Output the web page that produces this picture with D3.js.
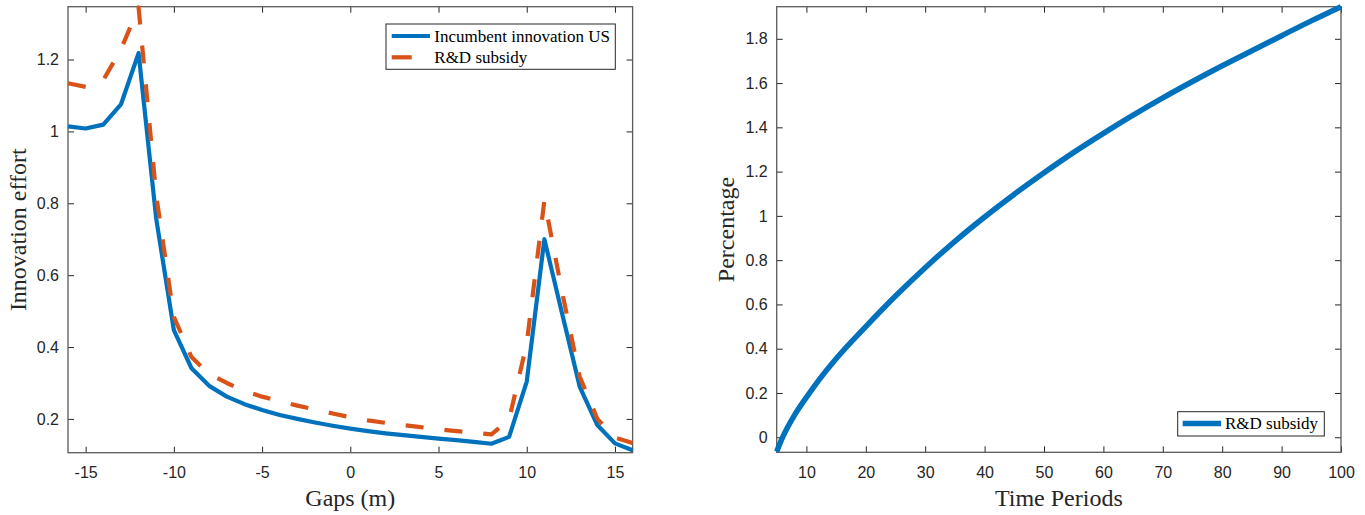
<!DOCTYPE html>
<html>
<head>
<meta charset="utf-8">
<script src="https://cdn.jsdelivr.net/npm/d3@7"></script>
<style>
  html, body { margin: 0; padding: 0; background: #fff; }
  svg { display: block; }
</style>
</head>
<body>
<svg id="chart" width="1365" height="515"></svg>
<script>
// ---------- Data ----------
const gaps = [-16,-15,-14,-13,-12,-11,-10,-9,-8,-7,-6,-5,-4,-3,-2,-1,0,1,2,3,4,5,6,7,8,9,10,11,12,13,14,15,16];
const incumbentUS = [1.014,1.008,1.019,1.075,1.218,0.757,0.447,0.341,0.292,0.262,0.241,0.225,0.211,0.200,0.190,0.181,0.173,0.166,0.160,0.155,0.150,0.145,0.141,0.136,0.131,0.150,0.304,0.700,0.494,0.290,0.183,0.132,0.113];
const rdSubsidyGap = [1.134,1.124,1.143,1.228,1.345,0.822,0.484,0.372,0.325,0.300,0.278,0.262,0.249,0.237,0.226,0.215,0.205,0.196,0.189,0.183,0.177,0.171,0.166,0.162,0.157,0.198,0.410,0.808,0.554,0.318,0.200,0.148,0.133];

const periods = [5,6,8,10,12,15,20,25,30,35,40,45,50,55,60,65,70,75,80,85,90,95,100];
const rdSubsidyPath = [-0.065,0.0,0.1,0.18,0.255,0.355,0.50,0.638,0.766,0.885,0.995,1.098,1.195,1.287,1.373,1.455,1.533,1.607,1.678,1.746,1.814,1.881,1.945];

const leftXTicks = [-15,-10,-5,0,5,10,15];
const leftYTicks = [0.2,0.4,0.6,0.8,1,1.2];
const rightXTicks = [10,20,30,40,50,60,70,80,90,100];
const rightYTicks = [0,0.2,0.4,0.6,0.8,1,1.2,1.4,1.6,1.8];

const leftLabels = {x: "Gaps (m)", y: "Innovation effort"};
const rightLabels = {x: "Time Periods", y: "Percentage"};
const leftLegend = ["Incumbent innovation US", "R&D subsidy"];
const rightLegend = ["R&D subsidy"];

// ---------- Styles ----------
const BLUE = "#0072BD", ORANGE = "#D95319", AX = "#262626", BOX = "#5a5a5a";
const tickFont = "'Liberation Sans', Arial, Helvetica, sans-serif";
const serif = "'Liberation Serif', 'Times New Roman', serif";

const svg = d3.select("#chart");

function fmt(v) { return String(+v.toFixed(4)); }

function panel(cfg) {
  const g = svg.append("g");
  const x = d3.scaleLinear().domain(cfg.xDomain).range([cfg.x0, cfg.x1]);
  const y = d3.scaleLinear().domain(cfg.yDomain).range([cfg.y1, cfg.y0]);
  const TL = 6;

  const bottom = g.append("g").attr("transform", `translate(0,${cfg.y1})`)
    .call(d3.axisBottom(x).tickValues(cfg.xTicks).tickSizeInner(-TL).tickSizeOuter(0).tickPadding(14).tickFormat(fmt));
  const top = g.append("g").attr("transform", `translate(0,${cfg.y0})`)
    .call(d3.axisTop(x).tickValues(cfg.xTicks).tickSizeInner(-TL).tickSizeOuter(0).tickFormat(""));
  const left = g.append("g").attr("transform", `translate(${cfg.x0},0)`)
    .call(d3.axisLeft(y).tickValues(cfg.yTicks).tickSizeInner(-TL).tickSizeOuter(0).tickPadding(9).tickFormat(fmt));
  const right = g.append("g").attr("transform", `translate(${cfg.x1},0)`)
    .call(d3.axisRight(y).tickValues(cfg.yTicks).tickSizeInner(-TL).tickSizeOuter(0).tickFormat(""));
  [bottom, top, left, right].forEach(a => {
    a.select(".domain").remove();
    a.selectAll(".tick line").attr("stroke", AX).attr("stroke-width", 1);
    a.selectAll(".tick text").attr("fill", AX).style("font-family", tickFont).style("font-size", "16px");
  });
  bottom.selectAll(".tick text").attr("dy", "0.71em");

  g.append("rect").attr("x", cfg.x0).attr("y", cfg.y0)
    .attr("width", cfg.x1 - cfg.x0).attr("height", cfg.y1 - cfg.y0)
    .attr("fill", "none").attr("stroke", BOX).attr("stroke-width", 1.3);

  cfg.series.forEach(s => {
    const line = d3.line().x((d, i) => x(s.xs[i])).y(d => y(d)).curve(s.curve || d3.curveLinear);
    g.append("path").datum(s.ys).attr("d", line)
      .attr("fill", "none").attr("stroke", s.color).attr("stroke-width", s.width || 4.2)
      .attr("stroke-linejoin", "round")
      .attr("stroke-dasharray", s.dash || null);
  });

  g.append("text").attr("x", (cfg.x0 + cfg.x1) / 2).attr("y", cfg.xLabelY)
    .attr("text-anchor", "middle").attr("fill", AX)
    .style("font-family", serif).style("font-size", "24px").text(cfg.labels.x);
  g.append("text").attr("transform", `translate(${cfg.yLabelX},${(cfg.y0 + cfg.y1) / 2}) rotate(-90)`)
    .attr("text-anchor", "middle").attr("fill", AX)
    .style("font-family", serif).style("font-size", "24px").text(cfg.labels.y);

  const L = cfg.legend;
  const lg = g.append("g");
  lg.append("rect").attr("x", L.x).attr("y", L.y).attr("width", L.w).attr("height", L.h)
    .attr("fill", "#fff").attr("stroke", AX).attr("stroke-width", 1);
  L.items.forEach((it, i) => {
    const cy = L.y + L.rowY[i];
    lg.append("line").attr("x1", L.lx1).attr("x2", it.dash ? L.lx1 + 20 : L.lx2)
      .attr("y1", cy).attr("y2", cy).attr("stroke", it.color).attr("stroke-width", it.width || 4.2);
    lg.append("text").attr("x", L.tx).attr("y", cy).attr("dy", "0.33em")
      .attr("fill", "#000").style("font-family", serif).style("font-size", "17px").text(it.label);
  });
}

panel({
  x0: 68, x1: 632.6, y0: 6.7, y1: 452.7,
  xDomain: [-16, 16], yDomain: [0.106, 1.347],
  xTicks: leftXTicks, yTicks: leftYTicks,
  labels: leftLabels, xLabelY: 506, yLabelX: 26,
  series: [
    {xs: gaps, ys: incumbentUS, color: BLUE},
    {xs: gaps, ys: rdSubsidyGap, color: ORANGE, dash: "18,21"}
  ],
  legend: {x: 386, y: 24, w: 229.3, h: 45.3, lx1: 391.7, lx2: 430, tx: 434.3, rowY: [12, 33.3],
    items: [{label: leftLegend[0], color: BLUE}, {label: leftLegend[1], color: ORANGE, dash: true}]}
});

panel({
  x0: 776.7, x1: 1341, y0: 6.7, y1: 452.3,
  xDomain: [5, 100], yDomain: [-0.068, 1.945],
  xTicks: rightXTicks, yTicks: rightYTicks,
  labels: rightLabels, xLabelY: 506, yLabelX: 734,
  series: [
    {xs: periods, ys: rdSubsidyPath, color: BLUE, curve: d3.curveMonotoneX, width: 5.5}
  ],
  legend: {x: 1177.7, y: 411.7, w: 146.6, h: 24.3, lx1: 1182.7, lx2: 1221, tx: 1225, rowY: [11.8],
    items: [{label: rightLegend[0], color: BLUE, width: 5.5}]}
});
</script>
</body>
</html>
